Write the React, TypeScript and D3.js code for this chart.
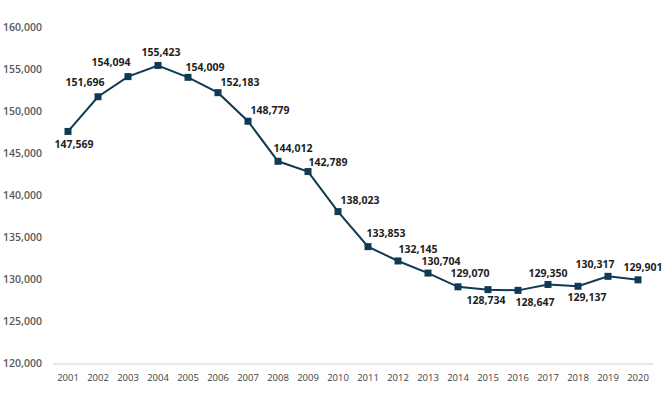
import React from "react";
import * as d3 from "d3";

// data
const years = ["2001","2002","2003","2004","2005","2006","2007","2008","2009","2010",
  "2011","2012","2013","2014","2015","2016","2017","2018","2019","2020"];
const values = [147569,151696,154094,155423,154009,152183,148779,144012,142789,138023,
  133853,132145,130704,129070,128734,128647,129350,129137,130317,129901];
const yTicks = [120000,125000,130000,135000,140000,145000,150000,155000,160000];

// label placement relative to each marker (layout only)
const labelDx = [6,-13,-17,3,17,22,22,15,20,22,18,20,13,12,-2,17,0,9,-13,5];
const labelDy = [13,-14,-14,-13,-10,-10,-11,-13,-9,-11,-13,-12,-12,-13,11,12,-11,11,-12,-13];

const W = 671, H = 394;
const navy = "#0e3a53";

export default function App() {
  const x = d3.scalePoint<string>().domain(years).range([68, 638]);
  const y = d3.scaleLinear().domain([120000, 160000]).range([363, 27]);
  const fmt = d3.format(",");
  const line = d3.line<number>()
    .x((_, i) => x(years[i])!)
    .y(d => y(d));

  return (
    <svg width={W} height={H} style={{ position: "absolute", left: 0, top: 0 }}
      fontFamily="'Open Sans', sans-serif">
      <rect width={W} height={H} fill="#fff" />
      <line x1={53} x2={653} y1={y(120000) + 1} y2={y(120000) + 1} stroke="#d0d0d0" strokeWidth={1} />
      {yTicks.map(t => (
        <text key={t} x={42} y={y(t)} dy="0.35em" textAnchor="end" fontSize={10.5}
          fontWeight={600} fill="#595959">{fmt(t)}</text>
      ))}
      {years.map(yr => (
        <text key={yr} x={x(yr)} y={378} dy="0.35em" textAnchor="middle" fontSize={9.5}
          fill="#404040">{yr}</text>
      ))}
      <path d={line(values) ?? ""} fill="none" stroke={navy} strokeWidth={2} />
      {values.map((v, i) => (
        <rect key={i} x={x(years[i])! - 3.5} y={y(v) - 3.5} width={7} height={7} fill={navy} />
      ))}
      {values.map((v, i) => (
        <text key={"l" + i} x={x(years[i])! + labelDx[i]} y={y(v) + labelDy[i]} dy="0.35em"
          textAnchor="middle" fontSize={10.5} fontWeight={700} fill="#1e1e1e">{fmt(v)}</text>
      ))}
    </svg>
  );
}
